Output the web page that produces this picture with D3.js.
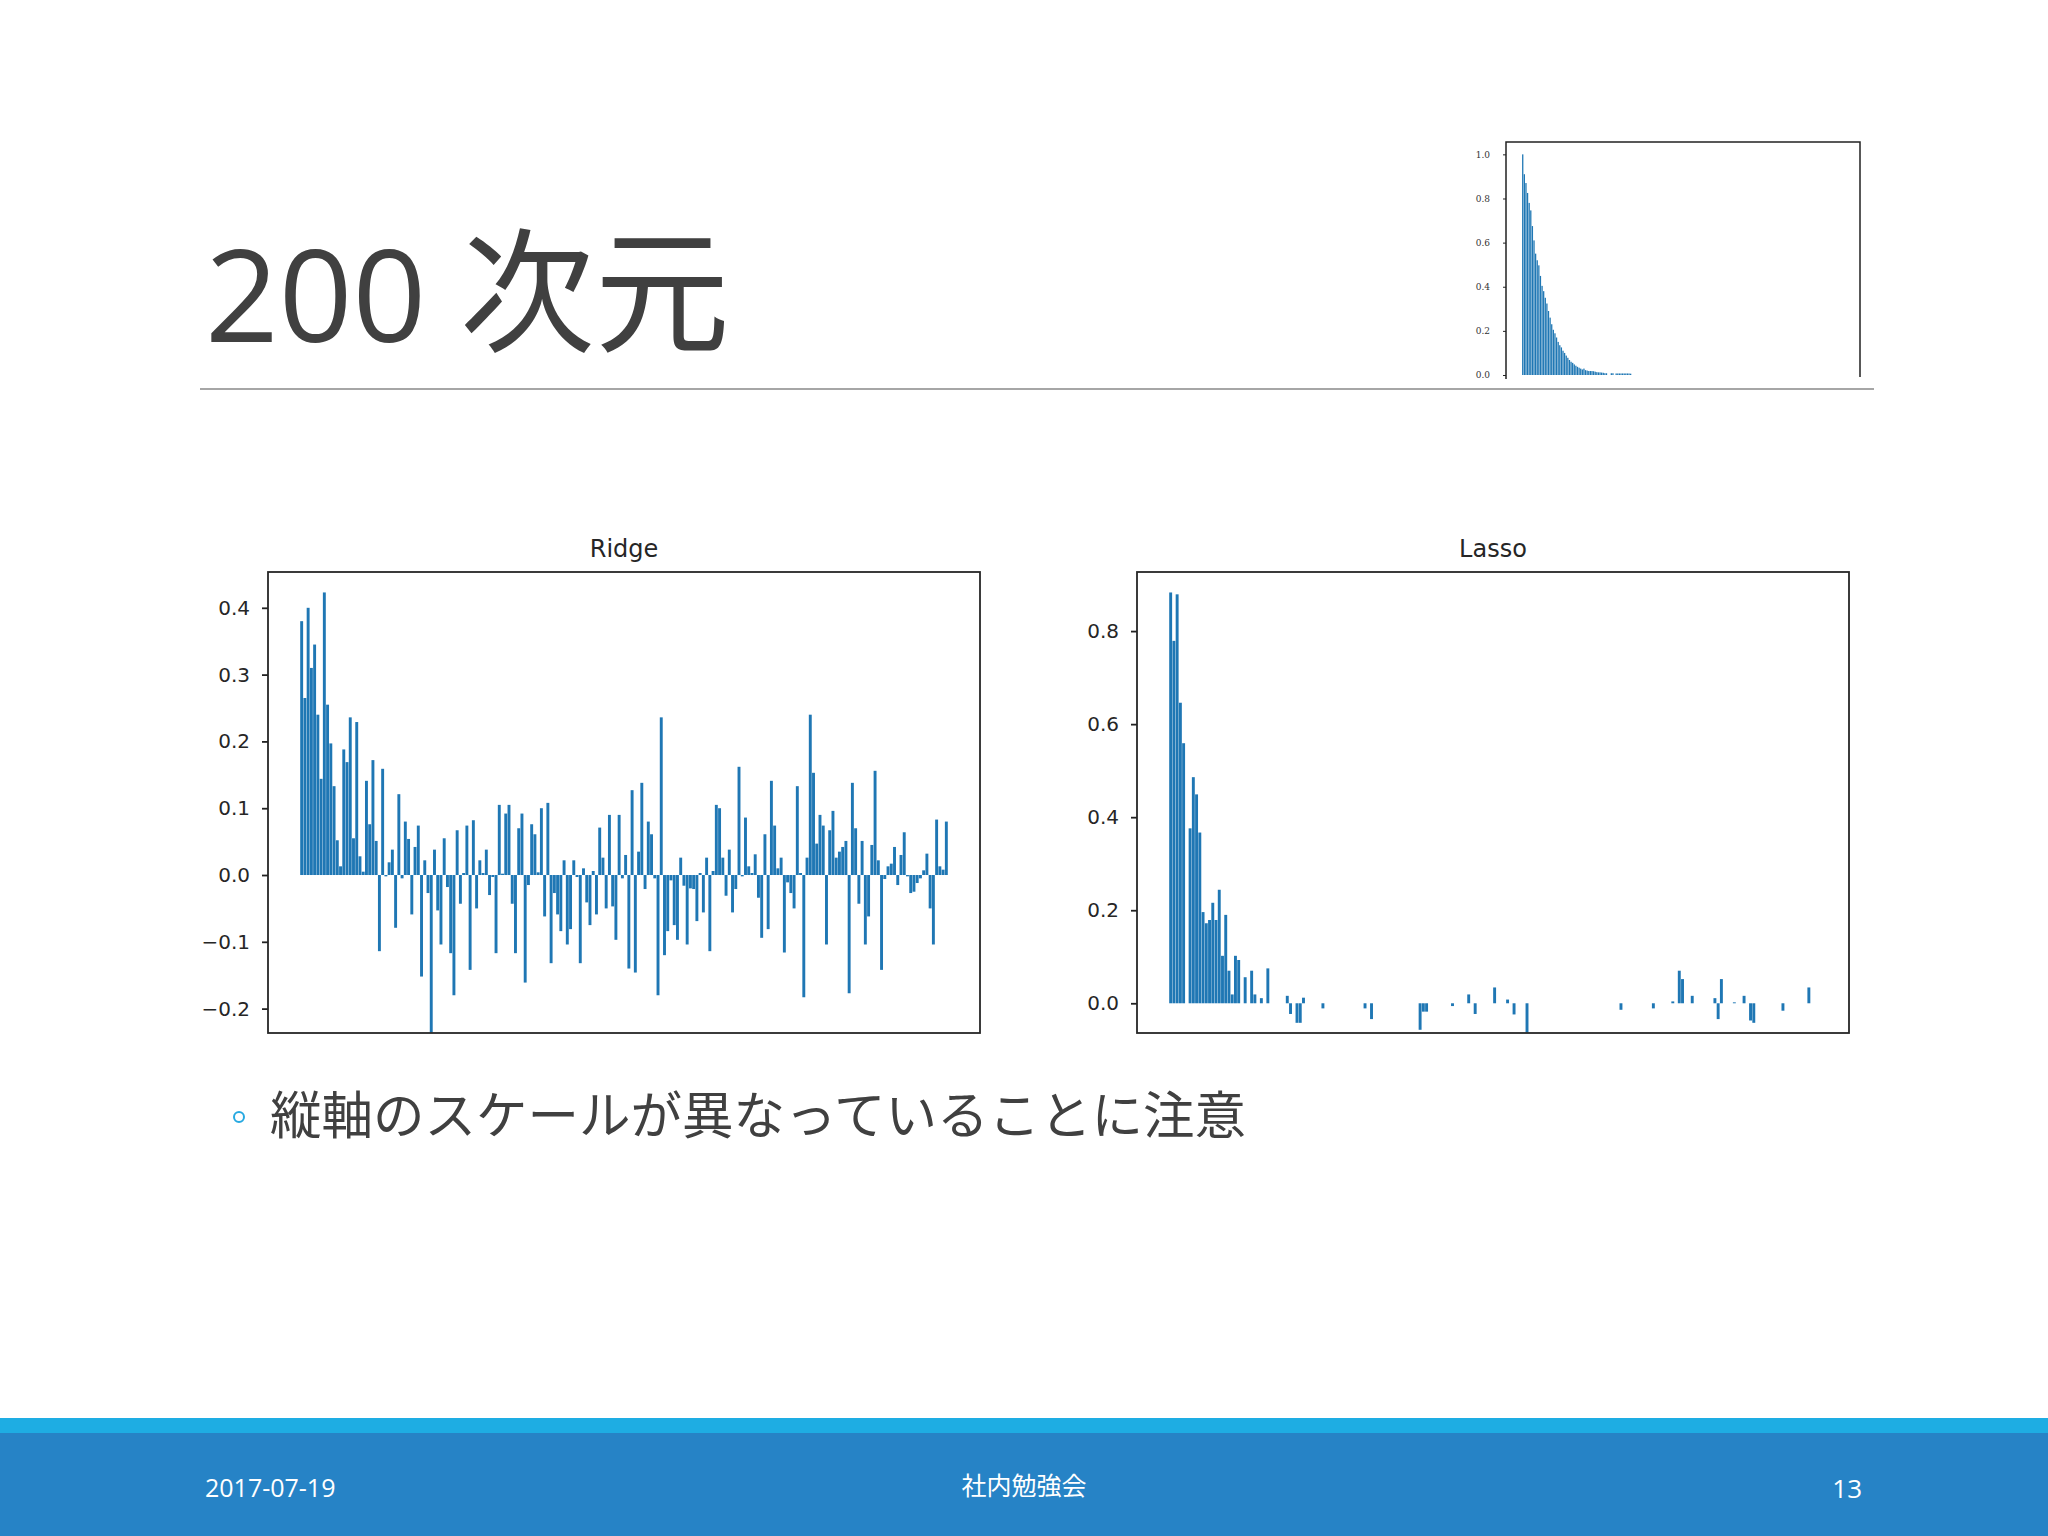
<!DOCTYPE html>
<html><head><meta charset="utf-8">
<script src="https://cdn.jsdelivr.net/npm/d3@7"></script>
<style>html,body{margin:0;padding:0;background:#fff;} svg{display:block;}</style>
</head><body>
<svg id="slide" width="2048" height="1536"></svg>
<script>
// ---------- data ----------
const ridgeValues = [
 0.38,0.265,0.40,0.31,0.345,0.24,0.144,0.423,0.255,0.197,0.133,0.052,0.013,0.188,0.169,0.236,0.055,0.229,0.028,0.005,
 0.141,0.076,0.172,0.051,-0.114,0.159,-0.002,0.019,0.038,-0.079,0.121,-0.005,0.080,0.054,-0.059,0.042,0.074,-0.152,0.022,-0.027,
 -0.236,0.038,-0.053,-0.104,0.055,-0.018,-0.117,-0.180,0.067,-0.043,0.003,0.074,-0.142,0.082,-0.050,0.022,0.003,0.038,-0.030,-0.003,
 -0.117,0.105,0.002,0.092,0.105,-0.043,-0.117,0.070,0.092,-0.161,-0.015,0.076,0.061,0.004,0.100,-0.062,0.108,-0.132,-0.027,-0.059,
 -0.084,0.022,-0.104,-0.081,0.022,-0.003,-0.132,0.010,-0.041,-0.075,0.006,-0.059,0.071,0.026,-0.050,0.090,-0.047,-0.097,0.090,-0.005,
 0.030,-0.140,0.127,-0.146,0.035,0.138,-0.021,0.080,0.061,-0.005,-0.180,0.236,-0.120,-0.084,-0.008,-0.075,-0.097,0.026,-0.016,-0.104,
 -0.020,-0.021,-0.069,0.003,-0.056,0.026,-0.114,0.006,0.105,0.100,0.026,-0.031,0.038,-0.056,-0.021,0.162,-0.002,0.086,0.013,0.003,
 0.031,-0.034,-0.094,0.061,-0.081,0.141,0.074,0.010,0.026,-0.116,-0.011,-0.027,-0.050,0.133,0.003,-0.183,0.026,0.240,0.153,0.047,
 0.090,0.074,-0.104,0.067,0.096,0.026,0.035,0.042,0.051,-0.177,0.138,0.070,-0.043,0.051,-0.104,-0.062,0.045,0.156,0.022,-0.142,
 -0.006,0.013,0.017,0.042,-0.015,0.030,0.064,-0.002,-0.027,-0.025,-0.012,-0.005,0.007,0.032,-0.050,-0.104,0.083,0.013,0.008,0.080
];
const lassoValues = [
 0.883,0.779,0.879,0.646,0.559,0,0.376,0.486,0.449,0.367,0.196,0.172,0.179,0.216,0.179,0.244,0.102,0.19,0.07,0.019,
 0.102,0.093,0,0.056,0,0.07,0.019,0,0.011,0,0.075,0,0,0,0,0,0.016,-0.023,0,-0.042,
 -0.042,0.012,0,0,0,0,0,-0.011,0,0,0,0,0,0,0,0,0,0,0,0,
 -0.011,0,-0.034,0,0,0,0,0,0,0,0,0,0,0,0,0,0,-0.057,-0.018,-0.018,
 0,0,0,0,0,0,0,-0.006,0,0,0,0,0.019,0,-0.023,0,0,0,0,0,
 0.034,0,0,0,0.008,0,-0.024,0,0,0,-0.063,0,0,0,0,0,0,0,0,0,
 0,0,0,0,0,0,0,0,0,0,0,0,0,0,0,0,0,0,0,-0.014,
 0,0,0,0,0,0,0,0,0,-0.011,0,0,0,0,0,0.004,0,0.07,0.052,0,
 0,0.016,0,0,0,0,0,0,0.011,-0.034,0.052,0,0,0,0.002,0,0,0.016,0,-0.037,
 -0.042,0,0,0,0,0,0,0,0,-0.016,0,0,0,0,0,0,0,0.034,0,0
];
const insetValues = [
 1.0,0.91,0.87,0.825,0.78,0.746,0.675,0.61,0.55,0.52,0.497,0.449,0.404,0.38,0.35,0.324,0.29,0.26,0.23,0.205,
 0.189,0.17,0.15,0.135,0.125,0.11,0.1,0.088,0.078,0.068,0.06,0.055,0.048,0.042,0.037,0.033,0.029,0.025,0.029,0.022,
 0.02,0.018,0.018,0.018,0.017,0.015,0.013,0.012,0.012,0.011,0.01,0.008,0.008,0,0,0.008,0.008,0,0.007,0.007,
 0.007,0.007,0.007,0.007,0.007,0.007,0.007,0.006
];
const ridgeTicks = [-0.2,-0.1,0.0,0.1,0.2,0.3,0.4];
const lassoTicks = [0.0,0.2,0.4,0.6,0.8];
const insetTicks = [0.0,0.2,0.4,0.6,0.8,1.0];
const chartTitles = ["Ridge","Lasso"];
const slideTitle = ["200", "次元"];
const bulletText = "縦軸のスケールが異なっていることに注意";
const footerDate = "2017-07-19";
const footerCenter = "社内勉強会";
const footerPage = "13";

// ---------- drawing ----------
const svg = d3.select("#slide");
const BAR = "#1f77b4";
const TXT = "#404040";
const fmt = d3.format(".1f");

svg.append("rect").attr("width",2048).attr("height",1536).attr("fill","#ffffff");

// title
const t = svg.append("text").attr("x",205).attr("y",342)
  .attr("font-family","'Open Sans','Noto Sans CJK JP',sans-serif")
  .attr("font-size",129).attr("fill",TXT);
t.append("tspan").text(slideTitle[0] + " ");
t.append("tspan").attr("font-family","'Noto Sans CJK JP',sans-serif").attr("font-size",135).text(slideTitle[1]);

// rule under title
svg.append("line").attr("x1",200).attr("x2",1874).attr("y1",389).attr("y2",389)
  .attr("stroke","#a6a6a6").attr("stroke-width",2);

function barChart(cfg){
  const g = svg.append("g");
  const x = d3.scaleLinear().domain([-10.39, 209.39]).range([cfg.left, cfg.right]);
  const y = d3.scaleLinear().domain(cfg.yDomain).range([cfg.bottom, cfg.top]);
  const w = (x(cfg.barW) - x(0));
  g.selectAll("rect.bar").data(cfg.values).join("rect").attr("class","bar")
    .attr("x",(d,i)=>x(i)-w/2)
    .attr("width",w)
    .attr("y",d=>y(Math.max(0,d)))
    .attr("height",d=>Math.abs(y(d)-y(0)))
    .attr("fill",BAR);
  const ax = g.append("g").attr("transform",`translate(${cfg.left},0)`)
    .call(d3.axisLeft(y).tickValues(cfg.ticks).tickFormat(fmt).tickSize(cfg.tickSize).tickPadding(cfg.tickPad));
  ax.select(".domain").remove();
  ax.selectAll(".tick line").attr("stroke","#222").attr("stroke-width",cfg.sw);
  ax.selectAll(".tick text").attr("font-family","'DejaVu Sans',sans-serif")
    .attr("font-size",cfg.fontSize).attr("fill",cfg.tickColor || "#262626");
  // frame
  g.append("rect").attr("x",cfg.left).attr("y",cfg.top)
    .attr("width",cfg.right-cfg.left).attr("height",cfg.bottom-cfg.top)
    .attr("fill","none").attr("stroke","#262626").attr("stroke-width",cfg.sw);
  if (cfg.title) {
    g.append("text").attr("x",(cfg.left+cfg.right)/2).attr("y",cfg.top-15)
      .attr("text-anchor","middle").attr("font-family","'DejaVu Sans',sans-serif")
      .attr("font-size",24).attr("fill","#262626").text(cfg.title);
  }
  return g;
}

barChart({values:ridgeValues, left:268, right:980, top:572, bottom:1033, barW:0.9,
  yDomain:[-0.2365,0.4536], ticks:ridgeTicks, tickSize:6, tickPad:12, fontSize:20, sw:1.8, title:chartTitles[0]});
barChart({values:lassoValues, left:1137, right:1849, top:572, bottom:1033, barW:0.9,
  yDomain:[-0.0639,0.927], ticks:lassoTicks, tickSize:6, tickPad:12, fontSize:20, sw:1.8, title:chartTitles[1]});

// inset (top-right small chart)
(function(){
  const left=1506, right=1860, top=142, bottom=375;
  const g = svg.append("g");
  const x = d3.scaleLinear().domain([-10.39, 209.39]).range([left,right]);
  const y = d3.scaleLinear().domain([0,1.056]).range([bottom,top]);
  const w = x(0.8)-x(0);
  g.selectAll("rect").data(insetValues).join("rect")
    .attr("x",(d,i)=>x(i)-w/2).attr("width",w)
    .attr("y",d=>y(d)).attr("height",d=>y(0)-y(d)).attr("fill",BAR);
  const ax = g.append("g").attr("transform",`translate(${left},0)`)
    .call(d3.axisLeft(y).tickValues(insetTicks).tickFormat(fmt).tickSize(3).tickPadding(13));
  ax.select(".domain").remove();
  ax.selectAll(".tick line").attr("stroke","#222");
  ax.selectAll(".tick text").attr("font-family","'DejaVu Serif',serif").attr("font-size",9).attr("fill","#333");
  g.append("path").attr("d",`M${left},${bottom+4}V${top}H${right}V${bottom+2}`)
    .attr("fill","none").attr("stroke","#222").attr("stroke-width",1.5);
})();

// bullet
svg.append("circle").attr("cx",239).attr("cy",1117).attr("r",5)
  .attr("fill","none").attr("stroke","#27a9e1").attr("stroke-width",2);
svg.append("text").attr("x",270).attr("y",1134)
  .attr("font-family","'Noto Sans CJK JP',sans-serif").attr("font-size",51.5)
  .attr("fill",TXT).text(bulletText);

// footer
svg.append("rect").attr("x",0).attr("y",1418).attr("width",2048).attr("height",16).attr("fill","#1eade3");
svg.append("rect").attr("x",0).attr("y",1433).attr("width",2048).attr("height",103).attr("fill","#2683c6");
svg.append("text").attr("x",205).attr("y",1497).attr("font-family","'Open Sans',sans-serif")
  .attr("font-size",25).attr("fill","#fff").text(footerDate);
svg.append("text").attr("x",1024).attr("y",1495).attr("text-anchor","middle")
  .attr("font-family","'Noto Sans CJK JP',sans-serif").attr("font-size",25).attr("fill","#fff").text(footerCenter);
svg.append("text").attr("x",1862).attr("y",1498).attr("text-anchor","end").attr("font-family","'Open Sans',sans-serif")
  .attr("font-size",26).attr("fill","#fff").text(footerPage);
</script>
</body></html>
